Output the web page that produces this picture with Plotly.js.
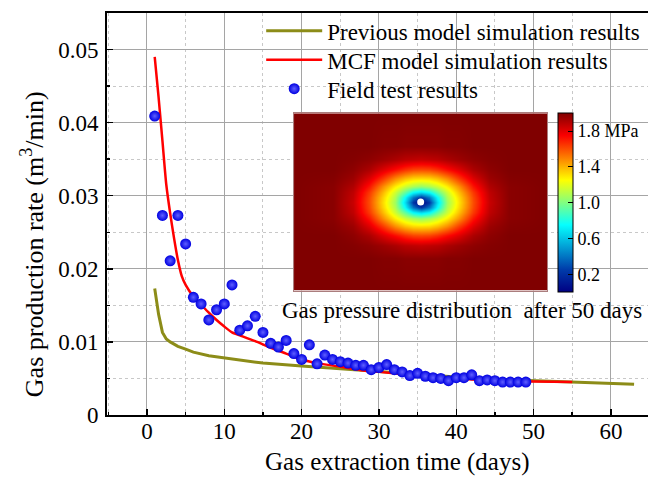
<!DOCTYPE html>
<html>
<head>
<meta charset="utf-8">
<script src="https://cdn.plot.ly/plotly-3.0.1.min.js"></script>
<style>html,body{margin:0;padding:0;background:#fff;}#chart{width:648px;height:484px;}</style>
</head>
<body>
<div id="chart"></div>
<script>
// ---- Field test results ----
const fieldDays = [1,2,3,4,5,6,7,8,9,10,11,12,13,14,15,16,17,18,19,20,21,22,23,24,25,26,27,28,29,30,31,32,33,34,35,36,37,38,39,40,41,42,43,44,45,46,47,48,49];
const fieldRate = [0.0409,0.0273,0.0211,0.0273,0.0234,0.0161,0.0152,0.0130,0.0144,0.0152,0.0178,0.0116,0.0122,0.0135,0.0113,0.0098,0.0093,0.0102,0.0084,0.0076,0.0096,0.0070,0.0082,0.0076,0.0073,0.0071,0.0068,0.0068,0.0062,0.0065,0.0069,0.0062,0.0059,0.0054,0.0057,0.0053,0.0051,0.0050,0.0047,0.0051,0.0051,0.0055,0.0047,0.0048,0.0047,0.0045,0.0045,0.0045,0.0045];

// ---- MCF model simulation ----
const mcfDays = [1,1.5,2,2.5,3,3.5,4,4.5,5,6,7,8,9,10,11,12,14,16,18,20,22,25,28,30,35,40,45,50,55];
const mcfRate = [0.0490,0.0435,0.0375,0.0315,0.0276,0.0242,0.0212,0.0190,0.0178,0.0162,0.0151,0.0140,0.0130,0.0121,0.0113,0.0109,0.0101,0.0092,0.0084,0.0076,0.0071,0.0066,0.0061,0.0059,0.0054,0.0050,0.0047,0.0046,0.0045];

// ---- Previous model simulation ----
const prevDays = [1,1.5,2,2.5,3,4,5,6,8,10,12,15,20,25,30,35,40,45,50,55,60,63];
const prevRate = [0.0173,0.0138,0.0113,0.0104,0.0100,0.0094,0.0090,0.0086,0.0081,0.0078,0.0075,0.0071,0.0067,0.0063,0.0059,0.0055,0.0052,0.0049,0.0047,0.0045,0.0043,0.0042];

// ---- Inset: gas pressure distribution after 50 days (MPa) ----
const mapX = [-127,-88,-68,-52,-38,-26,-16,-8,0,8,16,26,38,52,68,88,127];
const mapY = [-89,-56,-43,-33,-24,-16,-10,-5,0,5,10,16,24,33,43,56,89];
const pressure = [
 [2.00,2.00,2.00,2.00,2.00,2.00,2.00,2.00,2.00,2.00,2.00,2.00,2.00,2.00,2.00,2.00,2.00],
 [2.00,2.00,2.00,2.00,1.99,1.99,1.98,1.98,1.98,1.98,1.98,1.99,1.99,2.00,2.00,2.00,2.00],
 [2.00,2.00,1.99,1.97,1.94,1.91,1.88,1.87,1.86,1.87,1.88,1.91,1.94,1.97,1.99,2.00,2.00],
 [2.00,2.00,1.97,1.91,1.81,1.73,1.66,1.62,1.61,1.62,1.66,1.73,1.81,1.91,1.97,2.00,2.00],
 [2.00,1.99,1.94,1.81,1.64,1.48,1.38,1.33,1.32,1.33,1.38,1.48,1.64,1.81,1.94,1.99,2.00],
 [2.00,1.98,1.90,1.71,1.47,1.28,1.15,1.08,1.04,1.08,1.15,1.28,1.47,1.71,1.90,1.98,2.00],
 [2.00,1.98,1.87,1.64,1.38,1.15,0.93,0.74,0.66,0.74,0.93,1.15,1.38,1.64,1.87,1.98,2.00],
 [2.00,1.98,1.86,1.61,1.33,1.09,0.74,0.40,0.22,0.40,0.74,1.09,1.33,1.61,1.86,1.98,2.00],
 [2.00,1.98,1.85,1.60,1.31,1.06,0.66,0.22,0.00,0.22,0.66,1.06,1.31,1.60,1.85,1.98,2.00],
 [2.00,1.98,1.86,1.61,1.33,1.09,0.74,0.40,0.22,0.40,0.74,1.09,1.33,1.61,1.86,1.98,2.00],
 [2.00,1.98,1.87,1.64,1.38,1.15,0.93,0.74,0.66,0.74,0.93,1.15,1.38,1.64,1.87,1.98,2.00],
 [2.00,1.98,1.90,1.71,1.47,1.28,1.15,1.08,1.04,1.08,1.15,1.28,1.47,1.71,1.90,1.98,2.00],
 [2.00,1.99,1.94,1.81,1.64,1.48,1.38,1.33,1.32,1.33,1.38,1.48,1.64,1.81,1.94,1.99,2.00],
 [2.00,2.00,1.97,1.91,1.81,1.73,1.66,1.62,1.61,1.62,1.66,1.73,1.81,1.91,1.97,2.00,2.00],
 [2.00,2.00,1.99,1.97,1.94,1.91,1.88,1.87,1.86,1.87,1.88,1.91,1.94,1.97,1.99,2.00,2.00],
 [2.00,2.00,2.00,2.00,1.99,1.99,1.98,1.98,1.98,1.98,1.98,1.99,1.99,2.00,2.00,2.00,2.00],
 [2.00,2.00,2.00,2.00,2.00,2.00,2.00,2.00,2.00,2.00,2.00,2.00,2.00,2.00,2.00,2.00,2.00]
];
const boreholeX = [0];
const boreholeY = [0];
const cbTickVals = [0.2,0.6,1.0,1.4,1.8];
const cbTickText = ['0.2','0.6','1.0','1.4','1.8 MPa'];

const serif = 'Liberation Serif, Times New Roman, serif';
const legFont = {family: serif, size: 23, color: 'black'};
const xRange = [-5.17, 64.8];

const traces = [
  {x: prevDays, y: prevRate, type: 'scatter', mode: 'lines', name: 'Previous model simulation results',
   legend: 'legend', line: {color: 'rgb(140,140,24)', width: 3}, xaxis: 'x', yaxis: 'y'},
  {x: mcfDays, y: mcfRate, type: 'scatter', mode: 'lines', name: 'MCF model simulation results',
   legend: 'legend2', line: {color: 'rgb(255,0,0)', width: 2.5, shape: 'spline', smoothing: 0.6}, xaxis: 'x', yaxis: 'y'},
  {x: fieldDays, y: fieldRate, type: 'scatter', mode: 'markers', name: 'Field test results',
   legend: 'legend3',
   marker: {color: 'rgb(0,0,225)', size: 11, line: {width: 0},
            gradient: {type: 'radial', color: 'rgb(95,95,255)'}}, xaxis: 'x3', yaxis: 'y'},
  {x: mapX, y: mapY, z: pressure, type: 'heatmap', xaxis: 'x2', yaxis: 'y2', showlegend: false,
   colorscale: 'Jet', zmin: 0, zmax: 2, zsmooth: 'best', hoverinfo: 'skip',
   colorbar: {x: 0.8342, xanchor: 'left', y: 0.5279, yanchor: 'middle', len: 179, lenmode: 'pixels',
              thickness: 15, xpad: 0, ypad: 0, outlinecolor: 'black', outlinewidth: 1,
              tickmode: 'array', tickvals: cbTickVals, ticktext: cbTickText,
              ticks: 'inside', ticklen: 5, tickcolor: 'black', tickwidth: 1,
              tickfont: {family: serif, size: 18, color: 'black'}}},
  {x: boreholeX, y: boreholeY, type: 'scatter', mode: 'markers', xaxis: 'x2', yaxis: 'y2', showlegend: false,
   marker: {color: 'white', size: 7, line: {width: 0}}, hoverinfo: 'skip'}
];

function legendAt(y) {
  return {x: 0.285, y: y, xanchor: 'left', yanchor: 'top', bgcolor: 'rgba(0,0,0,0)',
          borderwidth: 0, font: legFont, itemwidth: 56};
}

const layout = {
  width: 648, height: 484,
  margin: {l: 107, r: 0, t: 13, b: 69, pad: 0},
  paper_bgcolor: 'white', plot_bgcolor: 'white',
  font: {family: serif, size: 23, color: 'black'},
  showlegend: true,
  legend: legendAt(1.009),
  legend2: legendAt(0.937),
  legend3: legendAt(0.865),
  xaxis: {domain: [0, 1], range: xRange, tick0: 0, dtick: 10, showline: true, mirror: true,
          linecolor: 'black', linewidth: 2, ticks: 'inside', ticklen: 6, tickwidth: 1.5, tickcolor: 'black',
          showgrid: true, gridcolor: 'rgb(165,165,165)', gridwidth: 1, zeroline: false,
          showticklabels: false,
          minor: {dtick: 5, showgrid: true, gridcolor: 'rgb(200,200,200)', griddash: 'dot', gridwidth: 1,
                  ticks: 'inside', ticklen: 3, tickcolor: 'black'}},
  xaxis3: {overlaying: 'x', anchor: 'free', position: 0, side: 'bottom', range: xRange, tick0: 0, dtick: 10,
           showline: false, ticks: '', showgrid: false, zeroline: false, showticklabels: true,
           tickfont: {family: serif, size: 23, color: 'black'}},
  yaxis: {domain: [0, 1], range: [0, 0.055], tick0: 0, dtick: 0.01, showline: true, mirror: false,
          linecolor: 'black', linewidth: 2, ticks: 'inside', ticklen: 6, tickwidth: 1.5, tickcolor: 'black',
          showgrid: true, gridcolor: 'rgb(165,165,165)', gridwidth: 1, zeroline: false,
          tickfont: {family: serif, size: 23}, ticklabelstandoff: 2,
          minor: {dtick: 0.005, showgrid: true, gridcolor: 'rgb(200,200,200)', griddash: 'dot', gridwidth: 1,
                  ticks: 'inside', ticklen: 3, tickcolor: 'black'}},
  xaxis2: {domain: [0.3457, 0.8139], range: [-126.5, 126.5], anchor: 'y2', showticklabels: false, ticks: '',
           showgrid: false, zeroline: false, showline: true, mirror: true, linecolor: 'rgb(170,125,125)', linewidth: 1},
  yaxis2: {domain: [0.3092, 0.7505], range: [-88.5, 88.5], anchor: 'x2', showticklabels: false, ticks: '',
           showgrid: false, zeroline: false, showline: true, mirror: true, linecolor: 'rgb(170,125,125)', linewidth: 1},
  annotations: [
    {text: 'Gas extraction time (days)', xref: 'paper', yref: 'paper', x: 0.537, y: -0.118,
     xanchor: 'center', yanchor: 'middle', showarrow: false, font: {family: serif, size: 25}},
    {text: 'Gas production rate (m<sup>3</sup>/min)', xref: 'paper', yref: 'paper', x: -0.1386, y: 0.425,
     xanchor: 'center', yanchor: 'middle', textangle: -90, showarrow: false, font: {family: serif, size: 26}},
    {text: 'Gas pressure distribution\u00a0 after 50 days', xref: 'paper', yref: 'paper', x: 0.3198, y: 0.261,
     xanchor: 'left', yanchor: 'middle', showarrow: false, font: {family: serif, size: 23}}
  ]
};

Plotly.newPlot('chart', traces, layout, {displayModeBar: false, staticPlot: true});
</script>
</body>
</html>
